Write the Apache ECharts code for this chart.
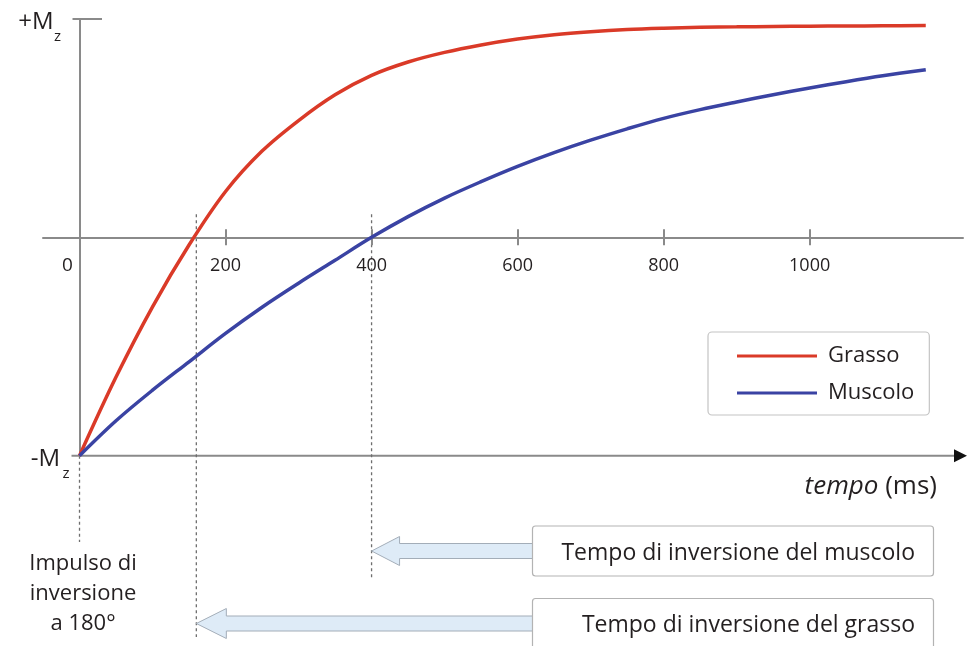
<!DOCTYPE html>
<html><head><meta charset="utf-8">
<style>html,body{margin:0;padding:0;background:#fff}#c{width:967px;height:646px}</style>
<script src="https://cdn.jsdelivr.net/npm/echarts@6.0.0/dist/echarts.min.js"></script>
</head><body><div id="c"></div>
<script>
// ---- data ----
const tickValues = [200, 400, 600, 800, 1000];
const fatName = 'Grasso';
const musName = 'Muscolo';
const timeMs = [0, 50, 100, 150, 200, 250, 300, 350, 400, 450, 500, 550, 600, 650, 700, 750, 800, 850, 900, 950, 1000, 1050, 1100, 1159];
const fatMz  = [-1, -0.64, -0.318, -0.035, 0.21, 0.395, 0.535, 0.653, 0.742, 0.803, 0.847, 0.881, 0.908, 0.928, 0.942, 0.952, 0.958, 0.962, 0.964, 0.966, 0.967, 0.968, 0.969, 0.970];
const musMz  = [-1, -0.84, -0.70, -0.57, -0.44, -0.32, -0.21, -0.105, 0, 0.095, 0.18, 0.255, 0.325, 0.388, 0.445, 0.497, 0.545, 0.585, 0.62, 0.653, 0.684, 0.713, 0.74, 0.768];
const pulseTime = 0;
const fatTI = 160;
const musTI = 400;
const zeroLabel = '0';
const yTopLabel = '+M';
const yBottomLabel = '-M';
const ySub = 'z';
const xTitle = 'tempo';
const xUnit = '(ms)';
const pulseLabel = ['Impulso di', 'inversione', 'a 180°'];
const musNote = 'Tempo di inversione del muscolo';
const fatNote = 'Tempo di inversione del grasso';

// ---- styles ----
const FONT = '"Open Sans", "Noto Sans", sans-serif';
const GRAY = '#8a8a8a';
const TEXT = '#231f20';
const RED = '#da3a28';
const BLUE = '#3a43a3';
const HALF = 218.35; // half of the grid height: puts the time axis on Mz = 0

const chart = echarts.init(document.getElementById('c'), null, {renderer: 'canvas'});
const pair = (ts, vs) => ts.map((t, i) => [t, vs[i]]);

chart.setOption({
  animation: false,
  grid: {left: 43, right: 4, top: 19, bottom: 190.3, containLabel: false},
  xAxis: [
    {type: 'value', min: -50, max: 1210, position: 'bottom', offset: -HALF,
     axisLine: {onZero: false, lineStyle: {color: GRAY, width: 2}},
     axisTick: {customValues: tickValues, length: 8, lineStyle: {color: GRAY, width: 2}},
     axisLabel: {customValues: tickValues, margin: 20, fontFamily: FONT, fontSize: 18, color: TEXT,
                 formatter: v => String(v)},
     splitLine: {show: false}},
    {type: 'value', min: -50, max: 1210, position: 'top', offset: -HALF,
     axisLine: {show: false, onZero: false},
     axisTick: {inside: false, customValues: tickValues, length: 8, lineStyle: {color: GRAY, width: 2}},
     axisLabel: {show: false}, splitLine: {show: false}}
  ],
  yAxis: {type: 'value', min: -1, max: 1,
    axisLine: {onZero: true, lineStyle: {color: GRAY, width: 2}},
    axisTick: {show: false}, axisLabel: {show: false}, splitLine: {show: false}},
  legend: {orient: 'vertical', left: 708, top: 332, padding: [12, 15, 10, 29],
    itemWidth: 80, itemHeight: 3, itemGap: 13, icon: 'rect',
    borderColor: '#c4c4c4', borderWidth: 1.2, borderRadius: 4,
    textStyle: {fontFamily: FONT, fontSize: 22, color: TEXT, lineHeight: 24, padding: [0, 0, 0, 6]},
    data: [fatName, musName]},
  series: [
    {name: fatName, type: 'line', data: pair(timeMs, fatMz), smooth: 0.35, symbol: 'none',
     lineStyle: {color: RED, width: 3.5}, itemStyle: {color: RED}, z: 3},
    {name: musName, type: 'line', data: pair(timeMs, musMz), smooth: 0.35, symbol: 'none',
     lineStyle: {color: BLUE, width: 3.5}, itemStyle: {color: BLUE}, z: 3}
  ]
});

const P = (t, v) => chart.convertToPixel({xAxisIndex: 0, yAxisIndex: 0}, [t, v]);
const x0 = P(0, 0)[0];
const yTop = P(0, 1)[1];
const yBot = P(0, -1)[1];
const xPulse = P(pulseTime, 0)[0];
const xFat = P(fatTI, 0)[0];
const xMus = P(musTI, 0)[0];
const yZero = P(0, 0)[1];

const dash = (x, y1, y2) => ({type: 'line', silent: true, shape: {x1: x, y1: y1, x2: x, y2: y2},
  style: {stroke: '#6e6e6e', lineWidth: 1.3, lineDash: [3, 3]}});
const arrow = (tipX, cy, headLen, headHalf, bodyHalf, endX) => ({type: 'polygon', silent: true,
  shape: {points: [[tipX, cy], [tipX + headLen, cy - headHalf], [tipX + headLen, cy - bodyHalf], [endX, cy - bodyHalf],
                   [endX, cy + bodyHalf], [tipX + headLen, cy + bodyHalf], [tipX + headLen, cy + headHalf]]},
  style: {fill: '#deebf7', stroke: '#a3adb8', lineWidth: 1}});
const txt = (o) => ({type: 'text', silent: true, style: Object.assign({fontFamily: FONT, fill: TEXT}, o)});

const g = [
  {type: 'line', silent: true, shape: {x1: x0 - 7, y1: yTop, x2: x0 + 22.5, y2: yTop}, style: {stroke: GRAY, lineWidth: 2}},
  {type: 'line', silent: true, shape: {x1: x0 - 8, y1: yBot, x2: 956, y2: yBot}, style: {stroke: GRAY, lineWidth: 2}},
  {type: 'polygon', silent: true, shape: {points: [[954, yBot - 6.5], [967, yBot], [954, yBot + 6.5]]}, style: {fill: '#111'}},
  dash(xPulse, yBot, 542),
  dash(xFat, yZero - 23, 637),
  dash(xMus, yZero - 23, 580),
  arrow(xMus, 551, 28, 14.5, 7.5, 533),
  arrow(xFat, 623.5, 30, 15, 7.5, 533),
  {type: 'rect', silent: true, shape: {x: 532.5, y: 526, width: 401, height: 50, r: 3}, style: {fill: '#fff', stroke: '#b3b3b3', lineWidth: 1.2}, z: 5},
  {type: 'rect', silent: true, shape: {x: 532.5, y: 598.5, width: 401, height: 70, r: 3}, style: {fill: '#fff', stroke: '#b3b3b3', lineWidth: 1.2}, z: 5},
  Object.assign(txt({text: musNote, x: 915, y: 553.5, fontSize: 23, align: 'right', verticalAlign: 'middle'}), {z: 6}),
  Object.assign(txt({text: fatNote, x: 915, y: 625, fontSize: 23, align: 'right', verticalAlign: 'middle'}), {z: 6}),
  txt({text: '{i|' + xTitle + '} ' + xUnit, x: 937, y: 487, fontSize: 26, align: 'right', verticalAlign: 'middle',
       rich: {i: {fontFamily: FONT, fontSize: 26, fontStyle: 'italic', fill: TEXT}}}),
  txt({text: pulseLabel.join('\n'), x: 83, y: 548.5, fontSize: 22, lineHeight: 30, align: 'center', verticalAlign: 'top'}),
  txt({text: zeroLabel, x: 67.5, y: 266, fontSize: 19, align: 'center', verticalAlign: 'middle'}),
  txt({text: yTopLabel, x: 53.5, y: 22.5, fontSize: 24, align: 'right', verticalAlign: 'middle'}),
  txt({text: ySub, x: 57.5, y: 37, fontSize: 15, align: 'center', verticalAlign: 'middle'}),
  txt({text: yBottomLabel, x: 60, y: 459, fontSize: 24, align: 'right', verticalAlign: 'middle'}),
  txt({text: ySub, x: 66, y: 474, fontSize: 15, align: 'center', verticalAlign: 'middle'})
];
chart.setOption({graphic: {elements: g}});
</script>
</body></html>
